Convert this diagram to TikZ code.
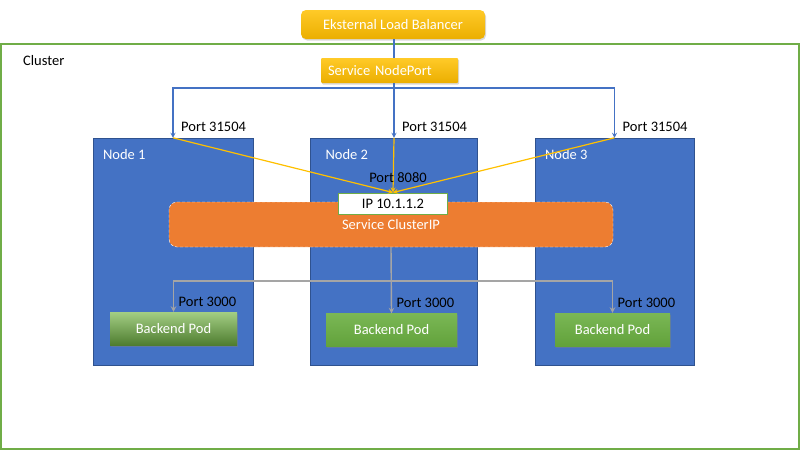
\documentclass[tikz,border=0pt]{standalone}
\usepackage{fontspec}
\setmainfont{Carlito}
\usetikzlibrary{positioning,shadows}

\definecolor{nodeblue}{HTML}{4472C4}
\definecolor{nodeedge}{HTML}{2F528F}
\definecolor{clusterorange}{HTML}{ED7D31}
\definecolor{clustergreen}{HTML}{70AD47}
\definecolor{podtop}{HTML}{7AB755}
\definecolor{podbottom}{HTML}{62A23B}
\definecolor{podfirsttop}{HTML}{A3CE84}
\definecolor{podfirstbottom}{HTML}{4F7D30}
\definecolor{goldtop}{HTML}{FFCA28}
\definecolor{goldbottom}{HTML}{EBAE00}
\definecolor{linkyellow}{HTML}{FFC000}
\definecolor{linkgray}{HTML}{A5A5A5}

\begin{document}
\begin{tikzpicture}[x=1pt, y=-1pt, >=stealth,
  font=\fontsize{14.5}{17}\selectfont,
  every worker/.style={draw=nodeedge, fill=nodeblue, minimum height=227pt, inner sep=0pt},
  every pod/.style={minimum height=33pt, inner sep=0pt, text=white,
    top color=podtop, bottom color=podbottom,
    drop shadow={shadow xshift=1pt, shadow yshift=-1.5pt, opacity=0.45}},
  pod 1/.style={top color=podfirsttop, bottom color=podfirstbottom,
    drop shadow={opacity=0}},
  gate/.style={inner sep=0pt, text=white, top color=goldtop, bottom color=goldbottom,
    drop shadow={shadow xshift=1pt, shadow yshift=-1.5pt, opacity=0.3}},
  portlabel/.style={inner sep=0pt},
  bluelink/.style={draw=nodeblue, line width=1.2pt},
  yellowlink/.style={draw=linkyellow, line width=1.2pt},
  graylink/.style={draw=linkgray, line width=1.4pt}]

\useasboundingbox (0,0) rectangle (800,450);

\node [draw=clustergreen, line width=1.5pt, minimum width=798pt, minimum height=405pt, inner sep=0pt]
  (cluster) at (400,246.5) {};
\node [portlabel, anchor=west] (cluster-label) at (23,61) {Cluster};

\node [gate, rounded corners=5pt, minimum width=184pt, minimum height=29pt] (lb) at (393,24.5) {Eksternal Load Balancer};
\node [gate, rounded corners=1pt, minimum width=137pt, minimum height=25pt,
  text width=123pt, align=left] (nodeport) at (389.5,70.5) {Service NodePort};

\foreach \m/\x/\w in {1/173/160, 2/394/167, 3/614.5/159}
  \node [every worker/.try, minimum width=\w pt] (node-\m) at (\x,251.5) {};

\foreach \m/\d in {1/10, 2/15, 3/10}
  \node [portlabel, text=white, below right=11pt and \d pt of node-\m.north west] (node-label-\m) {Node \m};

\node [fill=clusterorange, draw=white, densely dashed, rounded corners=8pt,
  minimum width=444pt, minimum height=45pt, inner sep=0pt, text=white]
  (clusterip) at (391,224.5) {\raisebox{-8pt}{Service ClusterIP}};
\node [fill=white, draw=clustergreen, line width=1pt, minimum width=109pt, minimum height=21pt, inner sep=0pt]
  (ip) at (393,203.5) {IP 10.1.1.2};

\foreach \m/\x/\y/\w in {1/173.5/328.5/127, 2/391.5/330/131, 3/612.5/329.5/115}
  \node [every pod/.try, pod \m/.try, minimum width=\w pt] (pod-\m) at (\x,\y) {Backend Pod};

% external traffic into the nodes
\coordinate (hub) at (node-2.north |- 0,88);
\draw [bluelink] (lb.south -| node-2.north) -- (nodeport.north -| node-2.north);
\draw [bluelink, ->] (nodeport.south -| node-2.north) -- (node-2.north);
\draw [bluelink, ->] (hub) -| (node-1.north);
\draw [bluelink, ->] (hub) -| (node-3.north);

\foreach \m in {1,2,3}
  \node [portlabel, above right=6pt and 8pt of node-\m.north] (nodeport-label-\m) {Port 31504};

\foreach \m in {1,2,3}
  \draw [yellowlink, ->] (node-\m.north) -- (ip.north);

\node [portlabel, above=10pt of ip.north, xshift=5pt] (ip-label) {Port 8080};

% cluster service to the pods
\coordinate (split) at (clusterip.south |- 0,281);
\draw [graylink, ->] (clusterip.south) -- (pod-2.north);
\draw [graylink, ->] (split) -| (pod-1.north);
\draw [graylink, ->] (split) -| (pod-3.north);

\foreach \m in {1,2,3}
  \node [portlabel, above right=5pt and 5pt of pod-\m.north] (pod-label-\m) {Port 3000};

\end{tikzpicture}
\end{document}
